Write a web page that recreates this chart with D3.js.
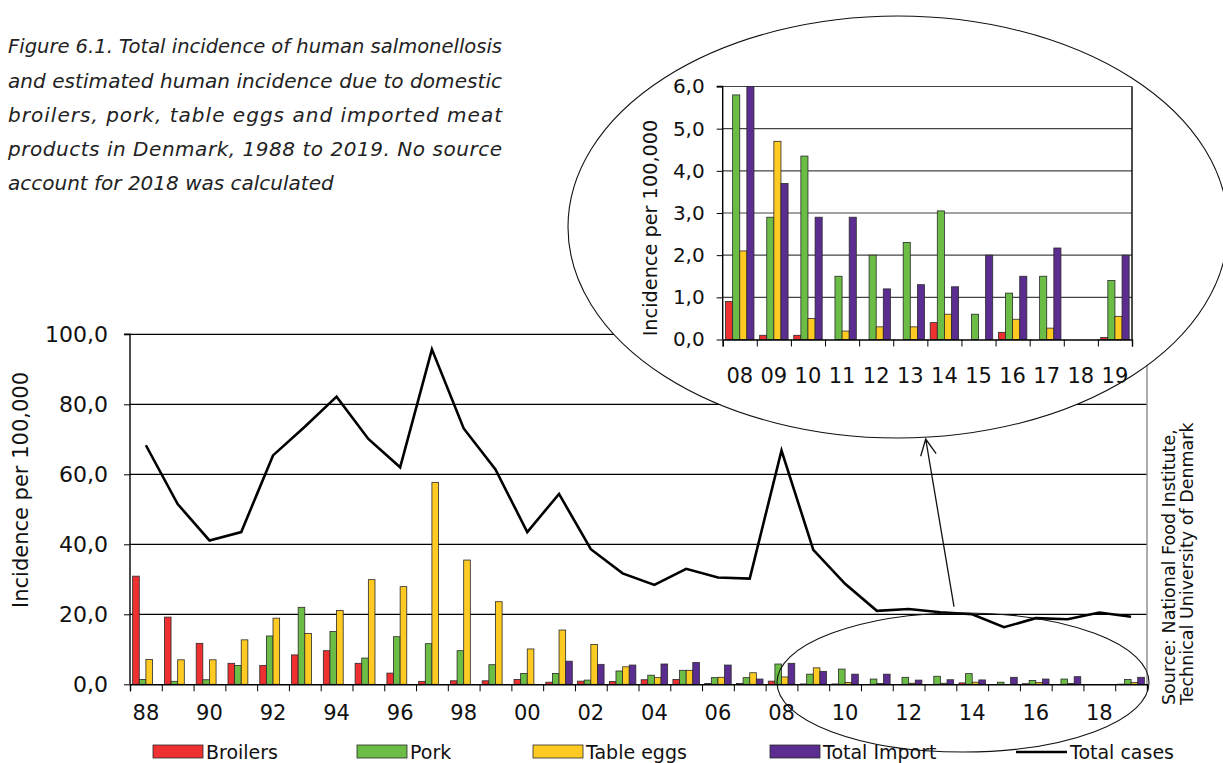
<!DOCTYPE html>
<html>
<head>
<meta charset="utf-8">
<script src="https://cdn.jsdelivr.net/npm/d3@7"></script>
<style>
  body { margin: 0; background: #fff; }
  svg { display: block; }
</style>
</head>
<body>
<script>
// data
var years = [1988,1989,1990,1991,1992,1993,1994,1995,1996,1997,1998,1999,2000,2001,2002,2003,
             2004,2005,2006,2007,2008,2009,2010,2011,2012,2013,2014,2015,2016,2017,2018,2019]
var broilers = [30.9,19.2,11.7,6.0,5.4,8.4,9.6,6.0,3.2,0.85,1.0,1.0,1.4,0.6,0.9,0.8,
                1.3,1.4,0.2,0.2,0.9,0.1,0.1,0,0,0,0.4,0,0.17,0,null,0.05]
var pork = [1.4,0.85,1.3,5.4,13.8,22.0,15.1,7.5,13.6,11.6,9.6,5.6,3.1,3.1,1.2,3.8,
            2.6,4.0,1.9,1.9,5.8,2.9,4.35,1.5,2.0,2.3,3.05,0.6,1.1,1.5,null,1.4]
var tableEggs = [7.1,7.0,7.0,12.7,18.9,14.5,21.1,29.9,27.9,57.7,35.5,23.6,10.1,15.5,11.4,5.0,
                 1.9,4.0,2.0,3.3,2.1,4.7,0.5,0.2,0.3,0.3,0.6,0,0.48,0.27,null,0.55]
var totalImport = [null,null,null,null,null,null,null,null,null,null,null,null,null,6.6,5.7,5.5,
                   5.8,6.2,5.5,1.5,6.0,3.7,2.9,2.9,1.2,1.3,1.25,2.0,1.5,2.17,null,2.0]
var totalCases = [68.3,51.5,41.1,43.5,65.4,73.6,82.2,70.1,62.0,95.7,73.1,61.4,43.5,54.4,38.6,31.7,
                  28.4,33.0,30.5,30.2,66.8,38.4,28.7,21.0,21.5,20.6,20.0,16.3,18.9,18.6,20.5,19.3]
var mainTicks = [0,20,40,60,80,100]
var insetTicks = [0,1,2,3,4,5,6]
var insetFrom = 2008

var seriesNames = ["Broilers","Pork","Table eggs","Total Import"]
var seriesData = [broilers, pork, tableEggs, totalImport]
var colors = ["#ee3030","#6cbd45","#ffcb22","#5c2d91"]

var titleLines = [
  "Figure 6.1. Total incidence of human salmonellosis",
  "and estimated human incidence due to domestic",
  "broilers, pork, table eggs and imported meat",
  "products in Denmark, 1988 to 2019. No source",
  "account for 2018 was calculated"
]

var W = 1223, H = 763
var font = "DejaVu Sans"
var fmt = d => d3.format(".1f")(d).replace(".", ",")

var svg = d3.select("body").append("svg")
    .attr("width", W).attr("height", H)
    .attr("font-family", font)

// rows: one per year, values per series
var rows = years.map((y, i) => ({year: y, vals: seriesData.map(s => s[i])}))

function barChart(g, data, box, yMax, ticks, opt) {
  var x = d3.scaleBand().domain(data.map(d => d.year)).range([box.left, box.right])
  var xi = d3.scaleBand().domain(d3.range(4)).range([0, x.bandwidth()]).paddingOuter(0.4)
  var y = d3.scaleLinear().domain([0, yMax]).range([box.bottom, box.top])

  // gridlines
  g.append("g").selectAll("line")
    .data(ticks.filter(t => t > 0))
    .join("line")
      .attr("x1", box.left).attr("x2", box.right)
      .attr("y1", d => y(d)).attr("y2", d => y(d))
      .attr("stroke", opt.grid).attr("stroke-width", 1.2)
  g.append("line")
    .attr("x1", box.right).attr("x2", box.right)
    .attr("y1", box.top).attr("y2", box.bottom)
    .attr("stroke", opt.border).attr("stroke-width", 1.4)

  // bars
  g.append("g").selectAll("g")
    .data(data)
    .join("g")
      .attr("transform", d => `translate(${x(d.year)},0)`)
    .selectAll("rect")
    .data(d => d.vals.map((v, k) => ({v: v, k: k})).filter(e => e.v > 0))
    .join("rect")
      .attr("x", e => xi(e.k))
      .attr("width", xi.bandwidth())
      .attr("y", e => y(e.v))
      .attr("height", e => box.bottom - y(e.v))
      .attr("fill", e => colors[e.k])
      .attr("stroke", "#2a2a2a").attr("stroke-width", 0.8)

  // y axis
  g.append("g")
    .attr("transform", `translate(${box.left},0)`)
    .call(d3.axisLeft(y).tickValues(ticks).tickSize(6).tickPadding(opt.pad).tickFormat(fmt))
    .call(a => a.select(".domain").attr("stroke", "#000").attr("stroke-width", 1.4).attr("d", `M-6,${box.top}H0V${box.bottom}`))
    .call(a => a.selectAll(".tick line").attr("stroke", "#000"))
    .call(a => a.selectAll("text").attr("font-size", opt.yFont).attr("fill", "#111").attr("font-family", font))

  // x axis: ticks on band boundaries, labels in band centres
  var xb = d3.scaleLinear().domain([0, data.length]).range([box.left, box.right])
  g.append("g")
    .attr("transform", `translate(0,${box.bottom})`)
    .call(d3.axisBottom(xb).tickValues(d3.range(data.length + 1)).tickSize(7).tickFormat(""))
    .call(a => a.select(".domain").attr("stroke", "#000").attr("stroke-width", 1.4))
    .call(a => a.selectAll(".tick line").attr("stroke", "#000"))
  g.append("g")
    .attr("transform", `translate(0,${box.bottom})`)
    .call(d3.axisBottom(x).tickSize(0).tickPadding(opt.xPad)
      .tickFormat((d, i) => opt.every && i % opt.every ? "" : String(d).slice(2)))
    .call(a => a.select(".domain").remove())
    .call(a => a.selectAll("text").attr("font-size", opt.xFont).attr("fill", "#111").attr("font-family", font))

  return {x: x, y: y}
}

// main chart
var mainBox = {left: 130, right: 1147, top: 334.3, bottom: 684.3}
var main = svg.append("g")
var ms = barChart(main, rows, mainBox, 100, mainTicks,
  {grid: "#000", border: "#8a8a8a", pad: 16, yFont: 22, xFont: 21, xPad: 21, every: 2})

var line = d3.line()
    .x((d, i) => ms.x(years[i]) + ms.x.bandwidth() / 2)
    .y(d => ms.y(d))
main.append("path")
    .datum(totalCases)
    .attr("d", line)
    .attr("fill", "none").attr("stroke", "#000").attr("stroke-width", 2.6)
    .attr("stroke-linejoin", "miter")

main.append("text")
    .attr("transform", "translate(28,490) rotate(-90)")
    .attr("text-anchor", "middle").attr("font-size", 21).attr("fill", "#111")
    .text("Incidence per 100,000")

// small ellipse around 2008-2019, arrow up to the inset
svg.append("ellipse")
    .attr("cx", 963).attr("cy", 682.5).attr("rx", 186).attr("ry", 69.5)
    .attr("fill", "none").attr("stroke", "#111").attr("stroke-width", 1.1)

var tip = [925.7, 439], tail = [954, 606.7]
var ang = Math.atan2(tail[1] - tip[1], tail[0] - tip[0])
var head = [-0.45, 0.45].map(a => [tip[0] + 18 * Math.cos(ang + a), tip[1] + 18 * Math.sin(ang + a)])
svg.append("path")
    .attr("d", `M${tail}L${tip}M${head[0]}L${tip}L${head[1]}`)
    .attr("fill", "none").attr("stroke", "#111").attr("stroke-width", 1.3)

// big ellipse with the inset chart
svg.append("ellipse")
    .attr("cx", 898).attr("cy", 227).attr("rx", 330).attr("ry", 211)
    .attr("fill", "#fff").attr("stroke", "#111").attr("stroke-width", 1.1)

var insetRows = rows.filter(d => d.year >= insetFrom)
var insetBox = {left: 722.7, right: 1132, top: 86.5, bottom: 339.5}
var inset = svg.append("g")
barChart(inset, insetRows, insetBox, 6, insetTicks,
  {grid: "#444", border: "#000", pad: 12, yFont: 20, xFont: 21, xPad: 29, every: 0})
inset.append("text")
    .attr("transform", "translate(657,228) rotate(-90)")
    .attr("text-anchor", "middle").attr("font-size", 19.3).attr("fill", "#111")
    .text("Incidence per 100,000")

// legend
var legendX = [153, 357, 533, 770]
var legend = svg.append("g")
seriesNames.forEach((name, k) => {
  legend.append("rect")
      .attr("x", legendX[k]).attr("y", 745).attr("width", 50).attr("height", 13)
      .attr("fill", colors[k]).attr("stroke", "#2a2a2a").attr("stroke-width", 0.8)
  legend.append("text")
      .attr("x", legendX[k] + 53).attr("y", 759)
      .attr("font-size", 19).attr("fill", "#111")
      .text(name)
})
legend.append("line")
    .attr("x1", 1016).attr("x2", 1067).attr("y1", 752).attr("y2", 752)
    .attr("stroke", "#000").attr("stroke-width", 2.6)
legend.append("text")
    .attr("x", 1070).attr("y", 759)
    .attr("font-size", 19).attr("fill", "#111")
    .text("Total cases")

// source
var source = svg.append("g")
    .attr("font-size", 17.5).attr("fill", "#111")
source.append("text")
    .attr("transform", "translate(1175,705) rotate(-90)")
    .text("Source: National Food Institute,")
source.append("text")
    .attr("transform", "translate(1193,705) rotate(-90)")
    .text("Technical University of Denmark")

// caption, justified except the last line
var captionWidth = 494
var caption = svg.append("g")
    .attr("font-family", font).attr("font-style", "italic")
    .attr("font-size", 20).attr("fill", "#222")
titleLines.forEach((t, i) => {
  var txt = caption.append("text")
      .attr("x", 8).attr("y", 53.3 + i * 34.2)
      .text(t)
  if (i < titleLines.length - 1) {
    var natural = txt.node().getComputedTextLength()
    txt.attr("textLength", captionWidth)
       .attr("lengthAdjust", natural > captionWidth ? "spacingAndGlyphs" : "spacing")
  }
})
</script>
</body>
</html>
